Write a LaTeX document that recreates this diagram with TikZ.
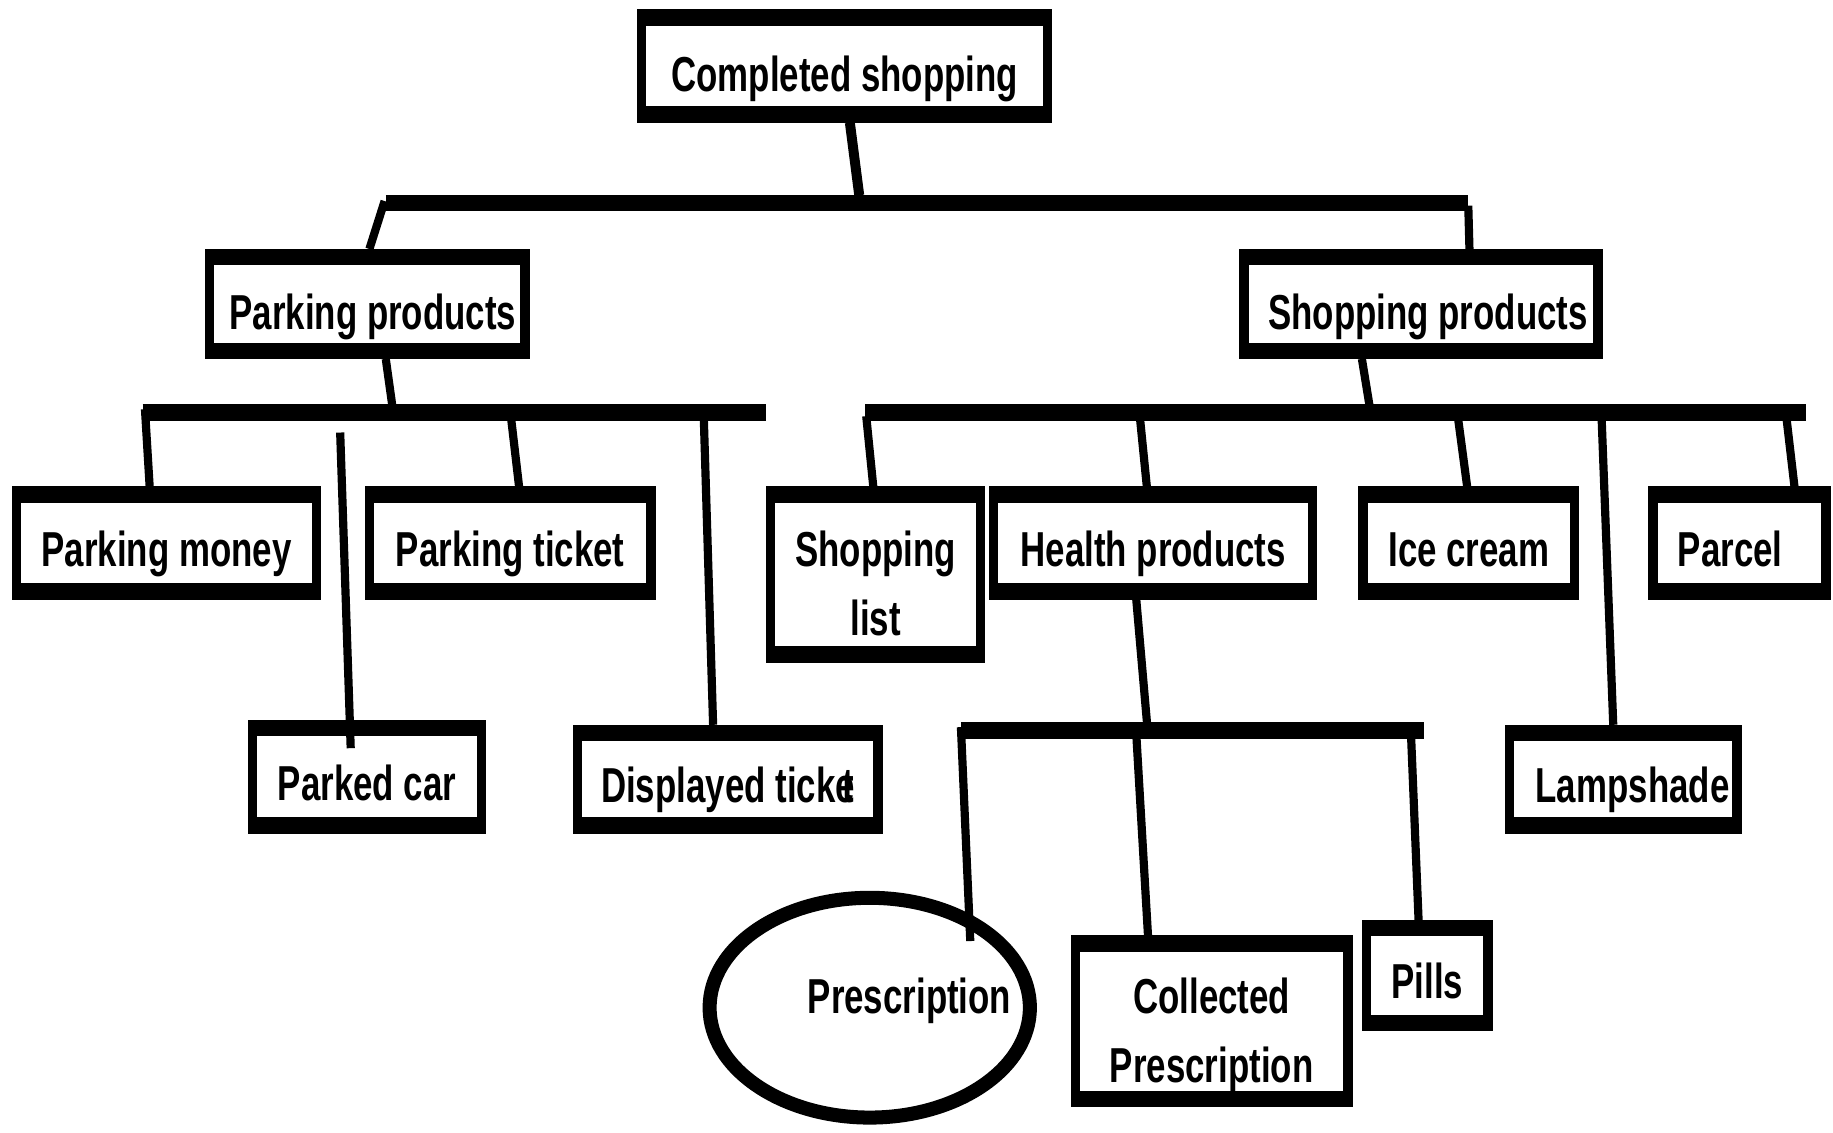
\documentclass[tikz,border=0pt]{standalone}
\usepackage{fontspec}
\setmainfont{Liberation Sans}[FakeStretch=0.71]
\usetikzlibrary{shapes.geometric,calc}
\newcommand\lblfont{\fontsize{42}{59}\selectfont\bfseries}
\tikzset{
  box/.style={rectangle, draw=black, fill=white, line width=8pt, inner sep=0pt,
    align=center, font=\lblfont, text height=44pt, text depth=4pt,
    path picture={
      \fill[black] (path picture bounding box.north west) rectangle ([yshift=-10pt]path picture bounding box.north east);
      \fill[black] (path picture bounding box.south west) rectangle ([yshift=10pt]path picture bounding box.south east);}},
  headbox/.style={box, text height=48pt},
  oval/.style={ellipse, draw=black, fill=white, line width=12pt, inner sep=0pt},
  conn/.style={line width=7pt, line cap=butt},
  wideconn/.style={line width=8.5pt, line cap=butt},
  bar/.style={line width=14pt, line cap=butt},
}
\begin{document}
\begin{tikzpicture}[x=1pt, y=-1pt]
\fill[white] (0,0) rectangle (1568,969);
\useasboundingbox (0,0) rectangle (1568,969);

% ---- boxes ----
\node[headbox, minimum width=347pt, minimum height=89pt] (cs) at (722.5,56.5) {Completed shopping};
\node[headbox, minimum width=270pt, minimum height=86pt] (pp) at (314,260) {\hspace*{10pt}Parking products};
\node[headbox, minimum width=303pt, minimum height=86pt] (sp) at (1215.5,260) {\hspace*{12pt}Shopping products};

\node[box, minimum width=257pt, minimum height=89pt] (pm) at (142.5,464.5) {Parking money};
\node[box, minimum width=241pt, minimum height=89pt] (pt) at (436.5,464.5) {Parking ticket};
\node[box, minimum width=196pt, minimum height=89pt] (pc) at (314,664.5) {Parked car};
\node[box, minimum width=257pt, minimum height=85pt] (dt) at (622.5,666.5) {Displayed ticke\kern-0.25em t};

\node[box, minimum width=180pt, minimum height=143pt, text height=105pt, text depth=0pt] (sl) at (749,491.5) {Shopping\\list};
\node[box, minimum width=273pt, minimum height=89pt] (hp) at (986.5,464.5) {Health products};
\node[box, minimum width=181pt, minimum height=89pt] (ic) at (1256.5,464.5) {Ice cream};
\node[box, minimum width=148pt, minimum height=89pt] (pa) at (1488,464.5) {Parcel\hspace*{16pt}};
\node[box, minimum width=195pt, minimum height=85pt] (ls) at (1388.5,666.5) {\hspace*{16pt}Lampshade};

\node[oval, minimum width=274pt, minimum height=188pt,
      label={[font=\lblfont, xshift=34pt, yshift=6pt]center:Prescription}] (pr) at (744,862) {};
\node[box, minimum width=233pt, minimum height=139pt, text height=114pt, text depth=9pt] (cp) at (1036.5,873.5) {Collected\\Prescription};
\node[box, minimum width=104pt, minimum height=87pt] (pi) at (1221,834.5) {Pills};

% ---- bar end points ----
\coordinate (tL) at (330,173.5);
\coordinate (tR) at (1256,173.5);
\coordinate (tM) at (735,167);
\coordinate (pL) at (122,353);
\coordinate (pR) at (655,353);
\coordinate (pM) at (336,350);
\coordinate (sL) at (740,353);
\coordinate (sR) at (1545,353);
\coordinate (sM) at (1172,350);
\coordinate (hL) at (822,625);
\coordinate (hR) at (1218,625);
\coordinate (hM) at (982,628);

% ---- bars ----
\draw[bar] (tL) -- (tR);
\draw[bar] (pL) -- (pR);
\draw[bar] (sL) -- (sR);
\draw[bar] (hL) -- (hR);

% ---- top level ----
\coordinate (tLd) at (329,172);
\coordinate (tRd) at (1256,176);
\draw[wideconn] ([xshift=4.5pt]cs.south) -- (tM);
\draw[conn] (tLd) -- ([xshift=2pt]pp.north);
\draw[conn] (tRd) -- ([xshift=41.5pt]sp.north);

% ---- parking branch ----
\coordinate (pmT) at (124,350);
\coordinate (pcT) at (291,370);
\coordinate (pcB) at (300,640);
\coordinate (ptT) at (437,356);
\coordinate (dtT) at (602,356);
\draw[conn] ([xshift=16pt]pp.south) -- (pM);
\draw[conn] (pmT) -- ([xshift=-14.5pt]pm.north);
\draw[conn] (pcT) -- (pcB);
\draw[conn] (ptT) -- ([xshift=7.5pt]pt.north);
\draw[conn] (dtT) -- ([xshift=-12.5pt]dt.north);

% ---- shopping branch ----
\coordinate (slT) at (741,356);
\coordinate (hpT) at (975,356);
\coordinate (icT) at (1247,356);
\coordinate (lsT) at (1370,356);
\coordinate (paT) at (1528,356);
\draw[conn] ([xshift=-50.5pt]sp.south) -- (sM);
\draw[conn] (slT) -- ([xshift=-2pt]sl.north);
\draw[conn] (hpT) -- ([xshift=-5.5pt]hp.north);
\draw[conn] (icT) -- ([xshift=-1.5pt]ic.north);
\draw[conn] (lsT) -- ([xshift=-8.5pt]ls.north);
\draw[conn] (paT) -- ([xshift=47pt]pa.north);

% ---- health branch ----
\coordinate (prT) at (822,622);
\coordinate (prB) at (830,805);
\coordinate (cpT) at (972,628);
\coordinate (piT) at (1207,628);
\coordinate (piB) at (1214,800);
\draw[conn] ([xshift=-14.5pt]hp.south) -- (hM);
\draw[conn] (prT) -- (prB);
\draw[conn] (cpT) -- ([xshift=-54.5pt]cp.north);
\draw[conn] (piT) -- (piB);
\end{tikzpicture}
\end{document}
